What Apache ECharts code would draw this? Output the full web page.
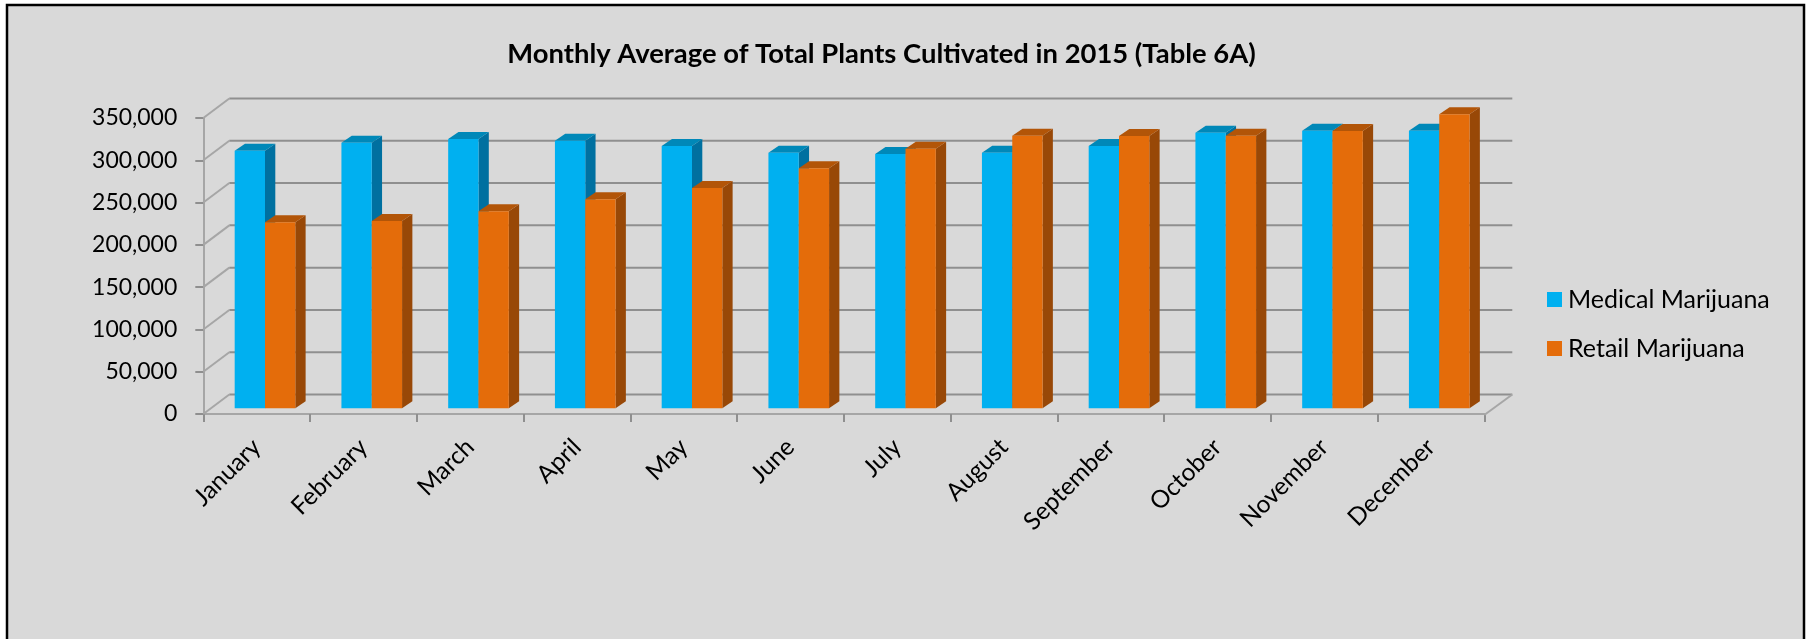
<!DOCTYPE html>
<html>
<head>
<meta charset="utf-8">
<style>html,body{margin:0;padding:0;background:#fff}#main{width:1807px;height:639px}</style>
<script src="https://cdn.jsdelivr.net/npm/echarts@6/dist/echarts.min.js"></script>
</head>
<body>
<div id="main"></div>
<script>
const months = ['January','February','March','April','May','June','July','August','September','October','November','December'];
const medical = [304600,314000,318500,316400,310100,302200,300700,302200,310100,325900,328200,328200];
const retail = [219900,221500,232900,247100,260500,283800,307000,322300,322000,322300,327900,347600];
const yTicks = [0,50000,100000,150000,200000,250000,300000,350000];

const FONT = 'Lato';
const WALL_DX = 26, WALL_DY = 19.5, WALL_END = 28;
const BAR_W = 0.284, BAR_DX = 10.3, BAR_DY = 7, BASE_DY = 5.7;

function wallItem(params, api) {
  const cs = params.coordSys;
  const v = api.value(1);
  const y = api.coord([0, v])[1];
  const x0 = cs.x, x1 = cs.x + cs.width;
  const children = [
    {type:'line', shape:{x1:x0+WALL_DX, y1:y-WALL_DY, x2:x1+WALL_END, y2:y-WALL_DY},
     style:{stroke:'#8f8f8f', lineWidth:2}},
    {type:'line', shape:{x1:x0, y1:y, x2:x0+WALL_DX, y2:y-WALL_DY},
     style:{stroke:'#a6a6a6', lineWidth:2}}
  ];
  if (v === 0) {
    children.push({type:'line', shape:{x1:x1, y1:y+1, x2:x1+WALL_END, y2:y-WALL_DY},
      style:{stroke:'#a6a6a6', lineWidth:2}});
  }
  return {type:'group', silent:true, children};
}

function barRenderer(startFrac, front, top, side) {
  return function (params, api) {
    const band = api.size([1, 0])[0];
    const c = api.coord([api.value(0), api.value(1)]);
    const z = api.coord([api.value(0), 0]);
    const xl = c[0] + startFrac * band;
    const xr = xl + BAR_W * band;
    const yt = c[1] - BASE_DY;
    const yb = z[1] - BASE_DY;
    return {type:'group', children:[
      {type:'polygon', shape:{points:[[xr,yt],[xr+BAR_DX,yt-BAR_DY],[xr+BAR_DX,yb-BAR_DY],[xr,yb]]}, style:{fill:side}},
      {type:'polygon', shape:{points:[[xl,yt],[xl+BAR_DX,yt-BAR_DY],[xr+BAR_DX,yt-BAR_DY],[xr,yt]]}, style:{fill:top}},
      {type:'rect', shape:{x:xl, y:yt, width:xr-xl, height:yb-yt}, style:{fill:front}}
    ]};
  };
}

const chart = echarts.init(document.getElementById('main'));
chart.setOption({
  animation:false,
  backgroundColor:'#ffffff',
  textStyle:{fontFamily:FONT},
  graphic:[{type:'rect', z:-10, silent:true,
    shape:{x:7, y:5, width:1797, height:640},
    style:{fill:'#d9d9d9', stroke:'#000', lineWidth:2.5}}],
  title:{text:'Monthly Average of Total Plants Cultivated in 2015 (Table 6A)',
    left:876.5, top:36, textAlign:'center',
    textStyle:{fontFamily:FONT, fontWeight:'bold', fontSize:27.4, color:'#000'}},
  legend:{orient:'vertical', left:1542, top:282, itemWidth:15, itemHeight:15, itemGap:24, icon:'rect',
    data:['Medical Marijuana','Retail Marijuana'],
    textStyle:{fontFamily:FONT, fontSize:25, color:'#000', padding:[0,0,0,1]}},
  grid:{left:203.3, top:118, width:1281, height:296, containLabel:false},
  xAxis:{type:'category', data:months,
    axisLine:{lineStyle:{color:'#a6a6a6', width:2}},
    axisTick:{show:true, length:8, lineStyle:{color:'#8f8f8f', width:2}},
    axisLabel:{rotate:45, interval:0, margin:29, fontFamily:FONT, fontSize:24.5, color:'#000'}},
  yAxis:{type:'value', min:0, max:350000, interval:50000,
    axisLine:{show:true, lineStyle:{color:'#a6a6a6', width:2}},
    axisTick:{show:true, length:8, lineStyle:{color:'#8f8f8f', width:2}},
    splitLine:{show:false},
    axisLabel:{margin:26, fontFamily:FONT, fontSize:23, color:'#000',
      formatter:v=>v.toLocaleString('en-US')}},
  series:[
    {type:'custom', name:'walls', z:1, silent:true, renderItem:wallItem,
      encode:{x:0,y:1}, data:yTicks.map(v=>[0,v])},
    {type:'custom', name:'Medical Marijuana', z:3, itemStyle:{color:'#00B0F0'},
      renderItem:barRenderer(-0.206,'#00B0F0','#0088B8','#0070A0'),
      encode:{x:0,y:1}, data:medical.map((v,i)=>[i,v])},
    {type:'custom', name:'Retail Marijuana', z:4, itemStyle:{color:'#E46C0A'},
      renderItem:barRenderer(0.078,'#E46C0A','#B25508','#984807'),
      encode:{x:0,y:1}, data:retail.map((v,i)=>[i,v])}
  ]
});
</script>
</body>
</html>
